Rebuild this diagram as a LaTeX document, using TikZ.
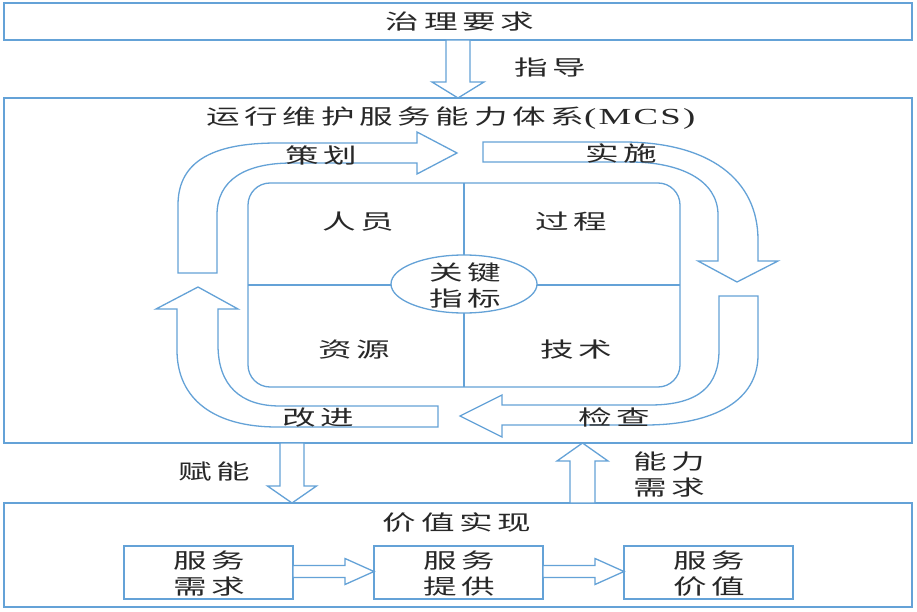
\documentclass[tikz,border=0pt]{standalone}
\usepackage{fontspec}
\usetikzlibrary{calc,shapes.geometric}
\newfontfamily\cjk[FakeStretch=1.6,LetterSpace=22]{Noto Sans CJK SC}
\newfontfamily\latn[FakeStretch=1.6,LetterSpace=10]{Liberation Serif}
\definecolor{lb}{RGB}{100,162,215}
\definecolor{tx}{RGB}{40,40,40}
\newcommand\hollowarrow[5]{%
  \coordinate (ha-c) at ($(#2)!#5!(#1)$);
  \draw[harrow] ($(#1)!#3!90:(#2)$) -- ($(ha-c)!#3!90:(#2)$) -- ($(ha-c)!#4!90:(#2)$) -- (#2)
    -- ($(ha-c)!#4!-90:(#2)$) -- ($(ha-c)!#3!-90:(#2)$) -- ($(#1)!#3!-90:(#2)$) -- cycle;}
\begin{document}
\begin{tikzpicture}[x=1pt,y=-1pt,line width=1.3pt,
  frame/.style={draw=lb,inner sep=0pt,outer sep=0pt},
  harrow/.style={draw=lb,fill=white,line join=miter},
  txt/.style={font=\cjk\fontsize{21}{26}\selectfont,text=tx,align=center,inner sep=0pt}]
\useasboundingbox[fill=white] (0,0) rectangle (917,612);

% main frames
\node[frame,minimum width=908,minimum height=37] (gov) at (458,21.5) {};
\node[frame,minimum width=908,minimum height=345] (mcs) at (458,270.5) {};
\node[frame,minimum width=908,minimum height=104] (val) at (458,555) {};

\node[txt] (govt) at (460,22) {治理要求};
\node[txt] (mcst) at (451,118) {运行维护服务能力体系{\latn\fontsize{23}{26}\selectfont(MCS)}};
\node[txt] (valt) at (457,523) {价值实现};

% arrows between frames
\hollowarrow{gov.south}{mcs.north}{12pt}{26pt}{16pt}
\node[txt] (zd) at (550,68) {指导};

\coordinate (fnx) at (292,0);
\coordinate (fna) at (mcs.south -| fnx);
\coordinate (fnb) at (val.north -| fnx);
\hollowarrow{fna}{fnb}{12pt}{24.5pt}{17pt}
\node[txt] (fn) at (214,471) {赋能};

\coordinate (xqx) at (582.5,0);
\coordinate (xqa) at (val.north -| xqx);
\coordinate (xqb) at (mcs.south -| xqx);
\hollowarrow{xqa}{xqb}{12.5pt}{25.5pt}{18pt}
\node[txt] (xq) at (669,475) {能力\\需求};

% core grid
\node[frame,rounded corners=22pt,minimum width=432,minimum height=204] (core) at (464,285) {};
\draw[lb] (core.north) -- (core.south);
\draw[lb] (core.west) -- (core.east);
\node[draw=lb,fill=white,ellipse,minimum width=146,minimum height=58,inner sep=0pt] (kpi) at (464,284) {};
\node[txt] (kpit) at (465,285) {关键\\指标};
\node[txt] (ry) at (358,222) {人员};
\node[txt] (gc) at (571,222) {过程};
\node[txt] (zy) at (354,350) {资源};
\node[txt] (js) at (576,350) {技术};

% cycle arrows
\draw[harrow] (178,273) -- (178,205) .. controls (178,160) and (215,143) .. (277,143)
  -- (417,143) -- (417,132) -- (457,153) -- (417,174) -- (417,163) -- (292,163)
  .. controls (245,163) and (217,180) .. (217,215) -- (217,273) -- cycle;
\draw[harrow] (483,142) -- (623,142) .. controls (710,142) and (758,180) .. (758,240)
  -- (758,261) -- (778,261) -- (737,282) -- (698,261) -- (718,261) -- (718,215)
  .. controls (718,180) and (680,162) .. (630,162) -- (483,162) -- cycle;
\draw[harrow] (719,296) -- (758,296) -- (758,355) .. controls (758,400) and (715,425) .. (645,425)
  -- (502,425) -- (502,437) -- (460,416) -- (502,395) -- (502,405) -- (650,405)
  .. controls (700,405) and (719,385) .. (719,350) -- cycle;
\draw[harrow] (438,427) -- (277,427) .. controls (215,427) and (177,400) .. (177,350)
  -- (177,309) -- (156,309) -- (198,287) -- (238,309) -- (218,309) -- (218,345)
  .. controls (218,385) and (240,406) .. (280,406) -- (438,406) -- cycle;
\node[txt] (ch) at (321,155) {策划};
\node[txt] (ss) at (621,153) {实施};
\node[txt] (jc) at (614,417) {检查};
\node[txt] (gj) at (318,418) {改进};

% value chain
\node[frame,minimum width=169,minimum height=53] (b1) at (208.5,572.5) {};
\node[frame,minimum width=169,minimum height=53] (b2) at (458.5,572.5) {};
\node[frame,minimum width=169,minimum height=53] (b3) at (708.5,572.5) {};
\node[txt] (b1t) at (209,574) {服务\\需求};
\node[txt] (b2t) at (459,574) {服务\\提供};
\node[txt] (b3t) at (709,574) {服务\\价值};
\coordinate (s1) at ($(b1.east)+(0,-1)$);
\coordinate (t1) at ($(b2.west)+(0,-1)$);
\coordinate (s2) at ($(b2.east)+(0,-1)$);
\coordinate (t2) at ($(b3.west)+(0,-1)$);
\hollowarrow{s1}{t1}{6pt}{13pt}{29pt}
\hollowarrow{s2}{t2}{6pt}{13pt}{29pt}
\end{tikzpicture}
\end{document}
